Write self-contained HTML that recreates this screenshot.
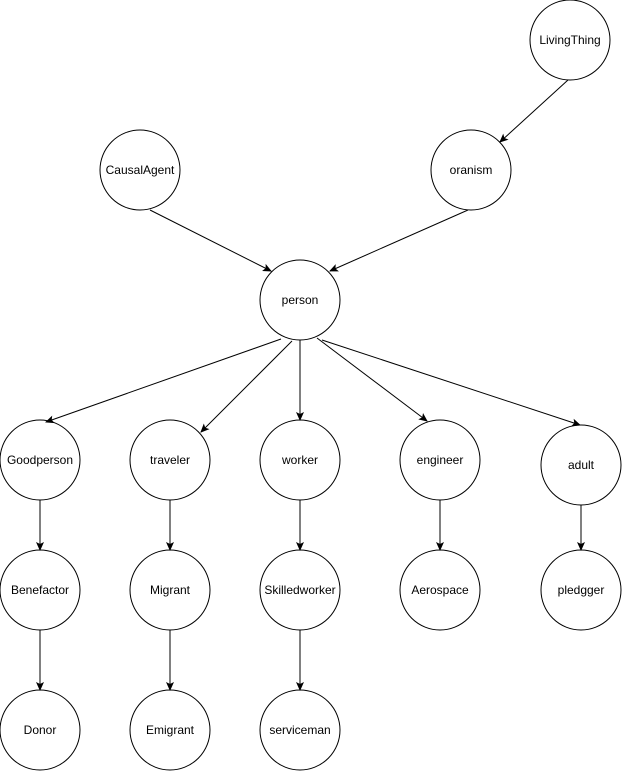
<!DOCTYPE html>
<html><head><style>body{margin:0;background:#fff}</style></head><body>
<svg width="622" height="772" xmlns="http://www.w3.org/2000/svg" font-family="Liberation Sans, Arial, sans-serif" font-size="12">
<defs><marker id="a" markerWidth="10" markerHeight="10" refX="8" refY="5" orient="auto" markerUnits="userSpaceOnUse"><path d="M0,1 L9,5 L0,9 L2,5 Z" fill="#000"/></marker></defs>
<g fill="#fff" stroke="#000" stroke-width="1">
<circle cx="570" cy="40" r="40"/>
<circle cx="140" cy="170" r="40"/>
<circle cx="471" cy="170" r="40"/>
<circle cx="300" cy="300" r="40"/>
<circle cx="40" cy="460" r="40"/>
<circle cx="170" cy="460" r="40"/>
<circle cx="300" cy="460" r="40"/>
<circle cx="440" cy="460" r="40"/>
<circle cx="581" cy="465" r="40"/>
<circle cx="40" cy="590" r="40"/>
<circle cx="170" cy="590" r="40"/>
<circle cx="300" cy="590" r="40"/>
<circle cx="440" cy="590" r="40"/>
<circle cx="581" cy="590" r="40"/>
<circle cx="40" cy="730" r="40"/>
<circle cx="170" cy="730" r="40"/>
<circle cx="300" cy="730" r="40"/>
</g>
<g stroke="#000" stroke-width="1" marker-end="url(#a)">
<line x1="568" y1="80" x2="500" y2="142"/>
<line x1="150" y1="210" x2="271" y2="271"/>
<line x1="468" y1="210" x2="330" y2="271"/>
<line x1="281" y1="339" x2="46" y2="422"/>
<line x1="292" y1="341" x2="201" y2="432"/>
<line x1="300" y1="340" x2="300" y2="420"/>
<line x1="317" y1="338" x2="427" y2="421"/>
<line x1="322" y1="340" x2="580" y2="425"/>
<line x1="40" y1="500" x2="40" y2="550"/>
<line x1="170" y1="500" x2="170" y2="550"/>
<line x1="300" y1="500" x2="300" y2="550"/>
<line x1="440" y1="500" x2="440" y2="550"/>
<line x1="581" y1="505" x2="581" y2="550"/>
<line x1="40" y1="630" x2="40" y2="690"/>
<line x1="170" y1="630" x2="170" y2="690"/>
<line x1="300" y1="630" x2="300" y2="690"/>
</g>
<g text-anchor="middle" fill="#000">
<text x="570" y="44">LivingThing</text>
<text x="140" y="174">CausalAgent</text>
<text x="471" y="174">oranism</text>
<text x="300" y="304">person</text>
<text x="40" y="464">Goodperson</text>
<text x="170" y="464">traveler</text>
<text x="300" y="464">worker</text>
<text x="440" y="464">engineer</text>
<text x="581" y="469">adult</text>
<text x="40" y="594">Benefactor</text>
<text x="170" y="594">Migrant</text>
<text x="300" y="594">Skilledworker</text>
<text x="440" y="594">Aerospace</text>
<text x="581" y="594">pledgger</text>
<text x="40" y="734">Donor</text>
<text x="170" y="734">Emigrant</text>
<text x="300" y="734">serviceman</text>
</g>
</svg>
</body></html>
